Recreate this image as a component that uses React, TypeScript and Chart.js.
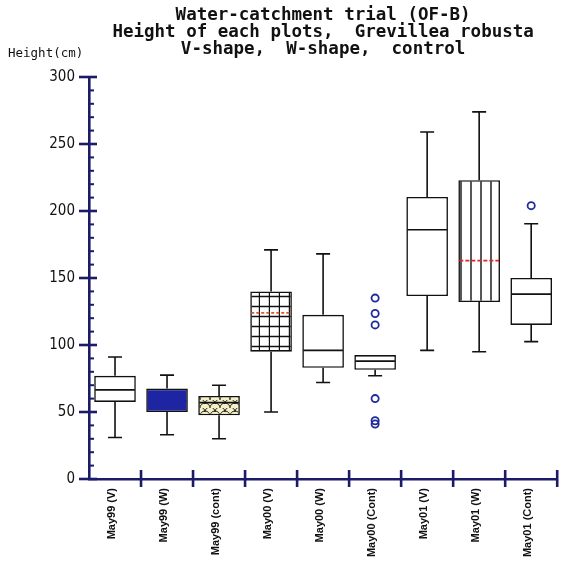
import { useEffect, useRef } from "react";
import { Chart, registerables } from "chart.js";

Chart.register(...registerables);

// Plots and their five-number summaries (cm)
const categories = [
  "May99 (V)",
  "May99 (W)",
  "May99 (cont)",
  "May00 (V)",
  "May00 (W)",
  "May00 (Cont)",
  "May01 (V)",
  "May01 (W)",
  "May01 (Cont)",
];
const whiskerLow = [31, 33, 30, 50, 72, 77, 96, 95, 102.5];
const quartile1 = [57.5, 50, 47.5, 95, 83, 81.5, 136.5, 132, 115];
const medians = [66.5, 58, 57, 124, 96, 88, 186, 163, 138];
const quartile3 = [77, 67.5, 62, 140, 122.5, 92.5, 210.5, 223, 150];
const whiskerHigh = [91, 77.5, 70, 171, 168, 92.5, 259, 274, 190.5];

// Individual outlying trees
const outlierCategories = [
  "May00 (Cont)",
  "May00 (Cont)",
  "May00 (Cont)",
  "May00 (Cont)",
  "May00 (Cont)",
  "May00 (Cont)",
  "May01 (Cont)",
];
const outlierValues = [135, 123.5, 115, 60, 43.5, 41, 204];

// Axis range and tick spacing
const yMin = 0;
const yMax = 300;
const yMajorStep = 50;
const yMinorStep = 10;

const titleLines = [
  "Water-catchment trial (OF-B)",
  "Height of each plots,  Grevillea robusta",
  "V-shape,  W-shape,  control",
];
const yAxisTitle = "Height(cm)";

const NAVY = "#1b1b68";
const INK = "#111111";
const BLUE_FILL = "#1d25a3";
const MONO = "'DejaVu Sans Mono', 'Liberation Mono', monospace";

function tile(w: number, h: number, paint: (c: CanvasRenderingContext2D) => void) {
  const t = document.createElement("canvas");
  t.width = w;
  t.height = h;
  const c = t.getContext("2d")!;
  paint(c);
  return t;
}

function makeFills(ctx: CanvasRenderingContext2D): (string | CanvasPattern)[] {
  const scales = tile(10, 8, (c) => {
    c.fillStyle = "#f5f0c6";
    c.fillRect(0, 0, 10, 8);
    c.strokeStyle = "#222";
    c.lineWidth = 1;
    c.beginPath();
    c.arc(5, 8, 5, Math.PI, 2 * Math.PI);
    c.stroke();
    c.beginPath();
    c.arc(0, 4, 5, Math.PI, 2 * Math.PI);
    c.stroke();
    c.beginPath();
    c.arc(10, 4, 5, Math.PI, 2 * Math.PI);
    c.stroke();
  });
  const grid = tile(10, 10, (c) => {
    c.fillStyle = "#ffffff";
    c.fillRect(0, 0, 10, 10);
    c.strokeStyle = INK;
    c.lineWidth = 1.4;
    c.beginPath();
    c.moveTo(9.5, 0);
    c.lineTo(9.5, 10);
    c.moveTo(0, 6.5);
    c.lineTo(10, 6.5);
    c.stroke();
  });
  const stripes = tile(10, 10, (c) => {
    c.fillStyle = "#ffffff";
    c.fillRect(0, 0, 10, 10);
    c.strokeStyle = INK;
    c.lineWidth = 1.4;
    c.beginPath();
    c.moveTo(1, 0);
    c.lineTo(1, 10);
    c.stroke();
  });
  const p = (t: HTMLCanvasElement) => ctx.createPattern(t, "repeat") as CanvasPattern;
  return [
    "#ffffff",
    BLUE_FILL,
    p(scales),
    p(grid),
    "#ffffff",
    "#ffffff",
    "#ffffff",
    p(stripes),
    "#ffffff",
  ];
}

// Median line styles per box
const medianStyles: { color: string; dash: number[] }[] = [
  { color: INK, dash: [] },
  { color: BLUE_FILL, dash: [] },
  { color: INK, dash: [] },
  { color: "#e2572c", dash: [3, 2] },
  { color: INK, dash: [] },
  { color: INK, dash: [] },
  { color: INK, dash: [] },
  { color: "#e5232b", dash: [4, 2] },
  { color: INK, dash: [] },
];

const boxPlugin = {
  id: "boxWhiskers",
  afterDatasetsDraw(chart: Chart) {
    const { ctx } = chart;
    const x = chart.scales.x;
    const y = chart.scales.y;
    const band = x.getPixelForValue(1) - x.getPixelForValue(0);
    const boxHalf = band * 0.4;
    const capHalf = 7;
    ctx.save();
    ctx.lineCap = "butt";
    categories.forEach((_, i) => {
      const cx = x.getPixelForValue(i);
      ctx.strokeStyle = INK;
      ctx.lineWidth = 1.6;
      ctx.setLineDash([]);
      // lower whisker: cap at the low end; upper whisker: cap at the high end
      const segs: [number, number, number][] = [
        [whiskerLow[i], quartile1[i], whiskerLow[i]],
        [quartile3[i], whiskerHigh[i], whiskerHigh[i]],
      ];
      segs.forEach(([a, b, capAt]) => {
        if (Math.abs(a - b) < 0.01) return;
        const ya = y.getPixelForValue(a);
        const yb = y.getPixelForValue(b);
        const yc = y.getPixelForValue(capAt);
        ctx.beginPath();
        ctx.moveTo(cx, ya);
        ctx.lineTo(cx, yb);
        ctx.moveTo(cx - capHalf, yc);
        ctx.lineTo(cx + capHalf, yc);
        ctx.stroke();
      });
      const st = medianStyles[i];
      const ym = y.getPixelForValue(medians[i]);
      ctx.strokeStyle = st.color;
      ctx.setLineDash(st.dash);
      ctx.lineWidth = 1.6;
      ctx.beginPath();
      ctx.moveTo(cx - boxHalf + 1, ym);
      ctx.lineTo(cx + boxHalf - 1, ym);
      ctx.stroke();
    });
    ctx.restore();
  },
};

const axisTickPlugin = {
  id: "axisTicks",
  afterDraw(chart: Chart) {
    const { ctx, chartArea } = chart;
    const x = chart.scales.x;
    const y = chart.scales.y;
    ctx.save();
    ctx.strokeStyle = NAVY;
    ctx.setLineDash([]);
    for (let v = yMin; v <= yMax; v += yMinorStep) {
      const py = y.getPixelForValue(v);
      const major = v % yMajorStep === 0;
      ctx.lineWidth = major ? 2.6 : 2;
      ctx.beginPath();
      ctx.moveTo(chartArea.left - (major ? 10 : 0), py);
      ctx.lineTo(chartArea.left + (major ? 8 : 5), py);
      ctx.stroke();
    }
    ctx.lineWidth = 2.6;
    for (let i = 0; i < categories.length; i++) {
      const px = x.getPixelForValue(i + 0.5);
      ctx.beginPath();
      ctx.moveTo(px, chartArea.bottom - 9);
      ctx.lineTo(px, chartArea.bottom + 8);
      ctx.stroke();
    }
    // unit label above the value axis
    ctx.fillStyle = INK;
    ctx.font = `12.5px ${MONO}`;
    ctx.textAlign = "left";
    ctx.textBaseline = "middle";
    ctx.fillText(yAxisTitle, 8, 54);
    ctx.restore();
  },
};

export default function App() {
  const ref = useRef<HTMLCanvasElement>(null);

  useEffect(() => {
    const canvas = ref.current!;
    const ctx = canvas.getContext("2d")!;
    const fills = makeFills(ctx);

    const chart = new Chart(canvas, {
      type: "bar",
      data: {
        labels: categories,
        datasets: [
          {
            type: "line",
            label: "Outliers",
            data: outlierCategories.map((c, i) => ({ x: c, y: outlierValues[i] })) as any,
            showLine: false,
            pointStyle: "circle",
            pointRadius: 3.6,
            pointBorderWidth: 1.8,
            pointBorderColor: "#1f2a9c",
            pointBackgroundColor: "rgba(255,255,255,0)",
            order: 1,
          },
          {
            type: "bar",
            label: "Interquartile range",
            data: categories.map((_, i) => [quartile1[i], quartile3[i]]) as any,
            backgroundColor: fills as any,
            borderColor: INK,
            borderWidth: 1.6,
            borderSkipped: false,
            barPercentage: 0.8,
            categoryPercentage: 1,
            order: 2,
          },
        ],
      },
      options: {
        responsive: false,
        animation: false,
        devicePixelRatio: 1,
        layout: { padding: { left: 0, right: 3, top: 0, bottom: 0 } },
        plugins: {
          legend: { display: false },
          tooltip: { enabled: false },
          title: {
            display: true,
            fullSize: false,
            text: titleLines,
            color: INK,
            font: { family: MONO, size: 17.5, weight: "bold", lineHeight: 17 / 17.5 },
            padding: { top: 7, bottom: 19 },
          },
        },
        scales: {
          x: {
            type: "category",
            offset: true,
            grid: { display: false, drawTicks: false },
            border: { display: true, color: NAVY, width: 2.6 },
            ticks: {
              autoSkip: false,
              minRotation: 90,
              maxRotation: 90,
              padding: 9,
              labelOffset: -3,
              color: INK,
              font: { family: "'Liberation Sans', Arial, sans-serif", size: 11, weight: "bold" },
            },
            afterFit: (s: any) => {
              s.height = 83;
            },
          },
          y: {
            type: "linear",
            min: yMin,
            max: yMax,
            grid: { display: false, drawTicks: false },
            border: { display: true, color: NAVY, width: 2.6 },
            ticks: {
              stepSize: yMajorStep,
              padding: 14,
              color: INK,
              font: {
                family: "'Liberation Sans Narrow', 'DejaVu Sans Condensed', Arial, sans-serif",
                size: 15,
              },
            },
            afterFit: (s: any) => {
              s.width = 89;
            },
          },
        },
      },
      plugins: [boxPlugin, axisTickPlugin],
    });

    return () => chart.destroy();
  }, []);

  return (
    <div style={{ position: "absolute", left: 0, top: 0, width: 563, height: 562, background: "#ffffff" }}>
      <canvas ref={ref} width={563} height={562} style={{ display: "block" }} />
    </div>
  );
}
